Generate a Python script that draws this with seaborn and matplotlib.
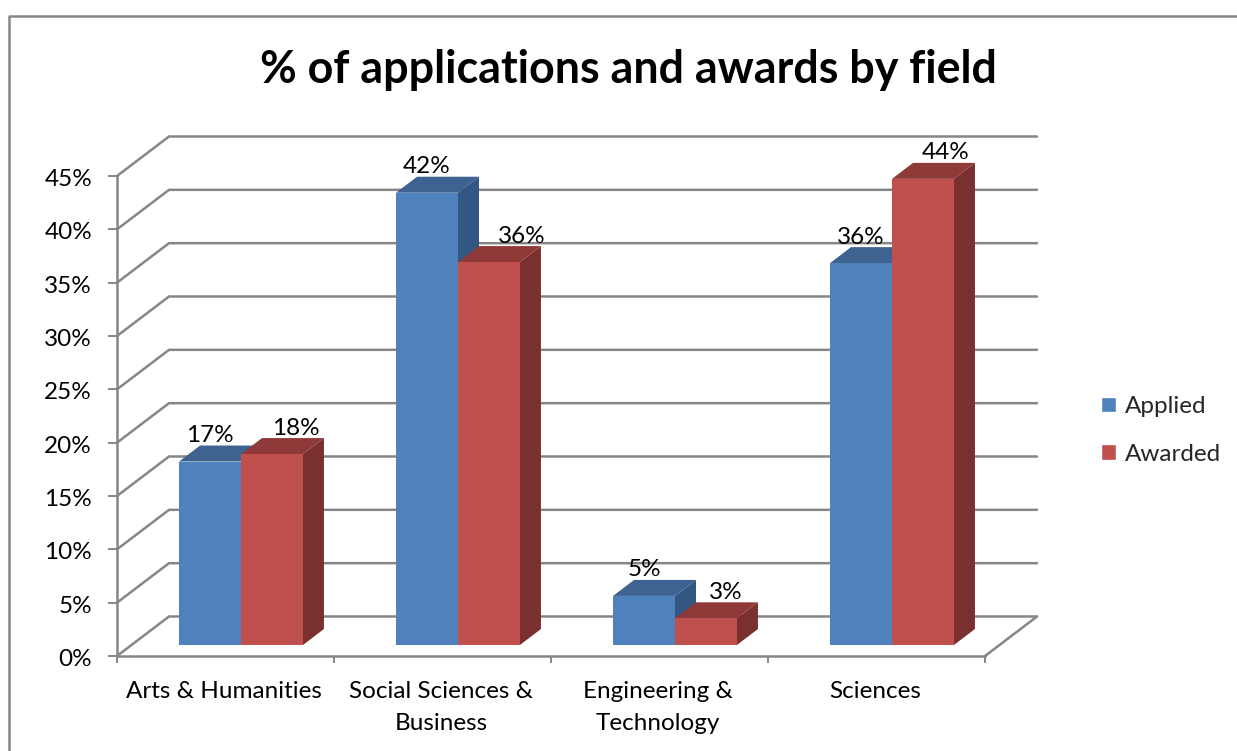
import pandas as pd
import matplotlib
matplotlib.use('Agg')
import matplotlib.pyplot as plt
import seaborn as sns
from matplotlib.lines import Line2D
from matplotlib.patches import Polygon
from matplotlib.transforms import ScaledTranslation

# Values
fields = ['Arts & Humanities', 'Social Sciences &\nBusiness', 'Engineering &\nTechnology', 'Sciences']
applied = [17.2, 42.4, 4.6, 35.8]
awarded = [17.9, 35.9, 2.5, 43.7]
applied_labels = ['17%', '42%', '5%', '36%']
awarded_labels = ['18%', '36%', '3%', '44%']
y_ticks = [0, 5, 10, 15, 20, 25, 30, 35, 40, 45]

W, H = 1237, 751
GREY = '#868686'
BLUE, BLUE_TOP, BLUE_SIDE = '#4F81BD', '#3E6390', '#335783'
RED, RED_TOP, RED_SIDE = '#C0504D', '#8F3A38', '#7A302F'
TEXT_SIZE = 17.5

sns.set_theme(style='white')
plt.rcParams['font.family'] = ['Lato', 'DejaVu Sans']

df = pd.DataFrame({'field': fields, 'Applied': applied, 'Awarded': awarded})
long_df = df.melt(id_vars='field', var_name='kind', value_name='pct')

fig = plt.figure(figsize=(W / 100, H / 100), dpi=100)
# front plane of the 3d box, pixel position
ax = fig.add_axes([117 / W, 1 - 656 / H, (985 - 117) / W, (656 - 176) / H])
sns.barplot(data=long_df, x='field', y='pct', hue='kind', palette=[BLUE, RED], saturation=1,
            width=0.571, gap=0, dodge=True, ax=ax, zorder=3)
ax.set_xlim(-0.5, 3.5)
ax.set_ylim(0, 45)

# pixels to data units
px_x = 4 / (985 - 117)
px_y = 45 / (656 - 176)

# back wall grid lines and the floor
wall_x, wall_y = 52 * px_x, 39.5 * px_y
for t in y_ticks:
    ax.plot([-0.5, -0.5 + wall_x, 3.5 + wall_x], [t, t + wall_y, t + wall_y],
            color=GREY, lw=1.8, clip_on=False, zorder=1, solid_joinstyle='miter')
ax.plot([3.5, 3.5 + wall_x], [0, wall_y], color=GREY, lw=1.8, clip_on=False, zorder=1)

# seaborn draws the front faces, here they get moved into the box and get a top and side
shift_x, shift_y = 15.5 * px_x, 11 * px_y
depth_x, depth_y = 21 * px_x, 16 * px_y
bars = [bar for container in ax.containers for bar in container]
n = len(fields)
faces = [(BLUE_TOP, BLUE_SIDE)] * n + [(RED_TOP, RED_SIDE)] * n
for i, bar in enumerate(bars):
    x0 = bar.get_x() + shift_x
    x1 = x0 + bar.get_width()
    y0 = shift_y
    y1 = shift_y + bar.get_height()
    bar.set_x(x0)
    bar.set_y(y0)
    bar.set_clip_on(False)
    bar.set_linewidth(0)
    # red bar of a category must sit on top of its blue one
    z = 3 + (i % n) + (0.5 if i >= n else 0)
    bar.set_zorder(z + 0.02)
    top_c, side_c = faces[i]
    ax.add_patch(Polygon([(x0, y1), (x1, y1), (x1 + depth_x, y1 + depth_y), (x0 + depth_x, y1 + depth_y)],
                         closed=True, fc=top_c, ec='none', clip_on=False, zorder=z))
    ax.add_patch(Polygon([(x1, y0), (x1 + depth_x, y0 + depth_y), (x1 + depth_x, y1 + depth_y), (x1, y1)],
                         closed=True, fc=side_c, ec='none', clip_on=False, zorder=z + 0.01))

# data labels, red ones sit further to the right in the original
red_nudge = [24, 33, 20, 23]
for i in range(n):
    blue_bar, red_bar = bars[i], bars[i + n]
    ax.annotate(applied_labels[i], (blue_bar.get_x() + blue_bar.get_width() / 2, blue_bar.get_y() + blue_bar.get_height()),
                xytext=(0, 26 * 0.72), textcoords='offset points', ha='center', va='center',
                fontsize=TEXT_SIZE, color='black', zorder=10, annotation_clip=False)
    ax.annotate(awarded_labels[i], (red_bar.get_x() + red_bar.get_width() / 2, red_bar.get_y() + red_bar.get_height()),
                xytext=(red_nudge[i] * 0.72, 26 * 0.72), textcoords='offset points', ha='center', va='center',
                fontsize=TEXT_SIZE, color='black', zorder=10, annotation_clip=False)

# axes
sns.despine(ax=ax, top=True, right=True)
for side in ['left', 'bottom']:
    ax.spines[side].set_color(GREY)
    ax.spines[side].set_linewidth(1.8)
ax.set_xlabel('')
ax.set_ylabel('')
ax.set_yticks(y_ticks)
ax.set_yticklabels([f'{t}%' for t in y_ticks], fontsize=TEXT_SIZE, color='black')
ax.tick_params(axis='y', left=True, length=6.5, width=1.4, color=GREY, pad=11.5)
# tick labels sit a little lower than matplotlib centres them
for label in ax.get_yticklabels():
    label.set_transform(label.get_transform() + ScaledTranslation(0, -1.5 / 100, fig.dpi_scale_trans))
ax.set_xticks(range(n))
ax.set_xticklabels(fields, fontsize=TEXT_SIZE, color='black', linespacing=1.65)
ax.set_xticks([-0.5, 0.5, 1.5, 2.5, 3.5], minor=True)
ax.tick_params(axis='x', which='major', bottom=False, length=0, pad=18)
ax.tick_params(axis='x', which='minor', bottom=True, length=5, width=1.4, color=GREY)
for label in ax.get_xticklabels():
    label.set_transform(label.get_transform() + ScaledTranslation(-1.5 / 100, 0, fig.dpi_scale_trans))

ax.legend_.remove()
handles = [plt.Rectangle((0, 0), 1, 1, fc=BLUE), plt.Rectangle((0, 0), 1, 1, fc=RED)]
fig.legend(handles, ['Applied', 'Awarded'], loc='center left', bbox_to_anchor=(1094 / W, 1 - 430.5 / H),
           frameon=False, fontsize=TEXT_SIZE, handlelength=0.62, handleheight=0.62, handletextpad=0.34,
           labelspacing=1.1, borderpad=0.3, borderaxespad=0)

fig.text(628.5 / W, 1 - 70 / H, '% of applications and awards by field', ha='center', va='center',
         fontsize=32.3, fontweight='bold', color='black')

# chart frame, cut off on the right and bottom in the original
fig.add_artist(Line2D([8.5 / W, 8.5 / W, 1], [0, 1 - 16 / H, 1 - 16 / H], color=GREY, lw=1.8))

fig.savefig('out.png', dpi=100)
